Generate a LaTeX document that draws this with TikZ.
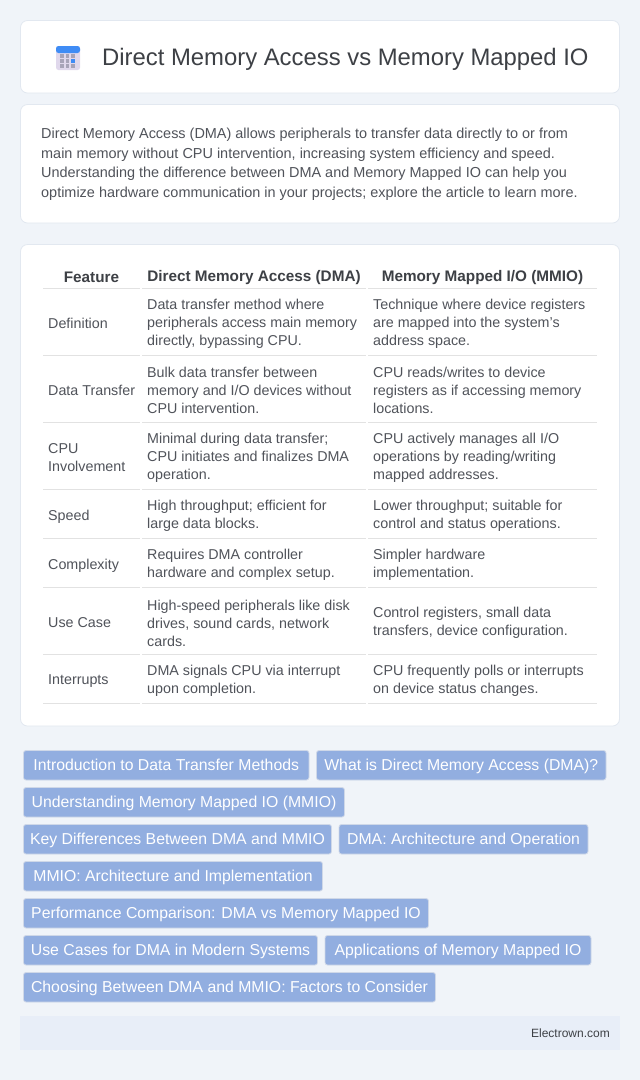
\documentclass[tikz,border=0pt]{standalone}
\usepackage{fontspec}
\setmainfont{Liberation Sans}
\usepackage{tikz}
\usetikzlibrary{positioning}
\definecolor{pagebg}{HTML}{F0F4F9}
\definecolor{cardline}{HTML}{E2E8F0}
\definecolor{titleink}{HTML}{3D4045}
\definecolor{bodyink}{HTML}{50535A}
\definecolor{ruleink}{HTML}{E2E2E2}
\definecolor{tagfill}{HTML}{92AEE0}
\definecolor{tagline}{HTML}{CFD8E8}
\definecolor{footfill}{HTML}{E8EEF8}
\definecolor{iconblue}{HTML}{3F8CF5}
\definecolor{iconbody}{HTML}{E0D8EC}
\definecolor{icondot}{HTML}{A8A4B8}
\tikzset{
  card/.style={draw=cardline,fill=white,rounded corners=7pt,line width=.8pt,anchor=north west,inner sep=0pt,outer sep=0pt,minimum width=599pt},
  cell/.style={anchor=west,align=left,inner sep=0pt,text=bodyink,font=\fontsize{14.3}{18}\selectfont},
  headcell/.style={anchor=center,inner sep=0pt,text=titleink,font=\fontsize{15.3}{18}\selectfont\bfseries},
  rule/.style={draw=ruleink,line width=1.2pt},
  tagbox/.style={draw=tagline,fill=tagfill,rounded corners=2.5pt,line width=.8pt,text=white,inner xsep=0pt,inner ysep=0pt,outer sep=0pt,text height=13pt,text depth=2pt,minimum height=29.5pt,font=\fontsize{15.8}{18}\selectfont},
  icondotbox/.style={fill=icondot,minimum size=3.6pt,inner sep=0pt}
}
\begin{document}
\begin{tikzpicture}[x=1pt,y=-1pt]
  \useasboundingbox[fill=pagebg] (0,0) rectangle (640,1080);

  \node[card,minimum height=72.5pt] (titlecard) at (20.5,20.5) {};
  \node[card,minimum height=118.5pt] (introcard) at (20.5,104.5) {};
  \node[card,minimum height=481.5pt] (tablecard) at (20.5,244.5) {};

  % icon
  \node[fill=iconbody,rounded corners=2.5pt,minimum width=24pt,minimum height=24pt,inner sep=0pt] (iconbase) at (68,58) {};
  \fill[iconblue,rounded corners=2.5pt] (56,53) |- (80,46) -- (80,53) -- cycle;
  \node[icondotbox] (dota) at (62,56) {};
  \node[icondotbox] (dotb) at (67.5,56) {};
  \node[icondotbox] (dotc) at (73,56) {};
  \node[icondotbox] (dotd) at (62,61) {};
  \node[icondotbox] (dote) at (67.5,61) {};
  \node[icondotbox,fill=iconblue] (dotf) at (73,61) {};
  \node[icondotbox] (dotg) at (62,66) {};
  \node[icondotbox] (doth) at (67.5,66) {};
  \node[icondotbox] (doti) at (73,66) {};

  \node[anchor=west,inner sep=0pt,text=titleink,font=\fontsize{23.85}{28}\selectfont] (title) at (102,59) {Direct Memory Access vs Memory Mapped IO};

  \node[cell,font=\fontsize{14.45}{19.5}\selectfont] (intro) at (41,164.5) {Direct Memory Access (DMA) allows peripherals to transfer data directly to or from\\main memory without CPU intervention, increasing system efficiency and speed.\\Understanding the difference between DMA and Memory Mapped IO can help you\\optimize hardware communication in your projects; explore the article to learn more.};

  % header
  \node[headcell] (feature) at (91.5,277.5) {Feature};
  \node[headcell] (dmahead) at (254,277.5) {Direct Memory Access (DMA)};
  \node[headcell] (mmiohead) at (482.5,277.5) {Memory Mapped I/O (MMIO)};

  % rows
  \node[cell] (defname) at (48,323.5) {Definition};
  \node[cell] (defdma) at (147,324) {Data transfer method where\\peripherals access main memory\\directly, bypassing CPU.};
  \node[cell] (defmmio) at (373,324) {Technique where device registers\\are mapped into the system's\\address space.};

  \node[cell] (xfername) at (48,390.5) {Data Transfer};
  \node[cell] (xferdma) at (147,390.5) {Bulk data transfer between\\memory and I/O devices without\\CPU intervention.};
  \node[cell] (xfermmio) at (373,390.5) {CPU reads/writes to device\\registers as if accessing memory\\locations.};

  \node[cell] (cpuname) at (48,458) {CPU\\Involvement};
  \node[cell] (cpudma) at (147,458) {Minimal during data transfer;\\CPU initiates and finalizes DMA\\operation.};
  \node[cell] (cpummio) at (373,458) {CPU actively manages all I/O\\operations by reading/writing\\mapped addresses.};

  \node[cell] (speedname) at (48,516.5) {Speed};
  \node[cell] (speeddma) at (147,516) {High throughput; efficient for\\large data blocks.};
  \node[cell] (speedmmio) at (373,516) {Lower throughput; suitable for\\control and status operations.};

  \node[cell] (cplxname) at (48,565.5) {Complexity};
  \node[cell] (cplxdma) at (147,565) {Requires DMA controller\\hardware and complex setup.};
  \node[cell] (cplxmmio) at (373,565) {Simpler hardware\\implementation.};

  \node[cell] (usename) at (48,623) {Use Case};
  \node[cell] (usedma) at (147,623) {High-speed peripherals like disk\\drives, sound cards, network\\cards.};
  \node[cell] (usemmio) at (373,623) {Control registers, small data\\transfers, device configuration.};

  \node[cell] (intname) at (48,681.5) {Interrupts};
  \node[cell] (intdma) at (147,681) {DMA signals CPU via interrupt\\upon completion.};
  \node[cell] (intmmio) at (373,681) {CPU frequently polls or interrupts\\on device status changes.};

  % table lines
  \draw[rule] (43,288.5) -- (139.6,288.5) (142,288.5) -- (365.7,288.5) (368,288.5) -- (597,288.5);
  \draw[rule] (43,355.5) -- (139.6,355.5) (142,355.5) -- (365.7,355.5) (368,355.5) -- (597,355.5);
  \draw[rule] (43,422.5) -- (139.6,422.5) (142,422.5) -- (365.7,422.5) (368,422.5) -- (597,422.5);
  \draw[rule] (43,489.5) -- (139.6,489.5) (142,489.5) -- (365.7,489.5) (368,489.5) -- (597,489.5);
  \draw[rule] (43,538.5) -- (139.6,538.5) (142,538.5) -- (365.7,538.5) (368,538.5) -- (597,538.5);
  \draw[rule] (43,587.5) -- (139.6,587.5) (142,587.5) -- (365.7,587.5) (368,587.5) -- (597,587.5);
  \draw[rule] (43,654.5) -- (139.6,654.5) (142,654.5) -- (365.7,654.5) (368,654.5) -- (597,654.5);
  \draw[rule] (43,703.5) -- (139.6,703.5) (142,703.5) -- (365.7,703.5) (368,703.5) -- (597,703.5);

  % tags
  \node[tagbox,anchor=north west,minimum width=285.5pt] (tagintro) at (23.5,750.5) {Introduction to Data Transfer Methods};
  \node[tagbox,minimum width=289.5pt,right=7.5pt of tagintro] (tagwhat) {What is Direct Memory Access (DMA)?};
  \node[tagbox,minimum width=321pt,below right=7.5pt and 0pt of tagintro.south west] (tagunder) {Understanding Memory Mapped IO (MMIO)};
  \node[tagbox,minimum width=308pt,below right=7.5pt and 0pt of tagunder.south west] (tagkey) {Key Differences Between DMA and MMIO};
  \node[tagbox,minimum width=249pt,right=7.5pt of tagkey] (tagdmaarch) {DMA: Architecture and Operation};
  \node[tagbox,minimum width=299pt,below right=7.5pt and 0pt of tagkey.south west] (tagmmioarch) {MMIO: Architecture and Implementation};
  \node[tagbox,minimum width=405pt,below right=7.5pt and 0pt of tagmmioarch.south west] (tagperf) {Performance Comparison: DMA vs Memory Mapped IO};
  \node[tagbox,minimum width=294pt,below right=7.5pt and 0pt of tagperf.south west] (taguse) {Use Cases for DMA in Modern Systems};
  \node[tagbox,minimum width=266pt,right=7.5pt of taguse] (tagapps) {Applications of Memory Mapped IO};
  \node[tagbox,minimum width=412pt,below right=7.5pt and 0pt of taguse.south west] (tagchoose) {Choosing Between DMA and MMIO: Factors to Consider};

  % footer
  \node[fill=footfill,anchor=north west,inner sep=0pt,outer sep=0pt,minimum width=600pt,minimum height=34pt] (footer) at (20,1016) {};
  \node[anchor=east,inner sep=0pt,text=titleink,font=\fontsize{12}{14}\selectfont] (site) at (610,1033) {Electrown.com};
\end{tikzpicture}
\end{document}
